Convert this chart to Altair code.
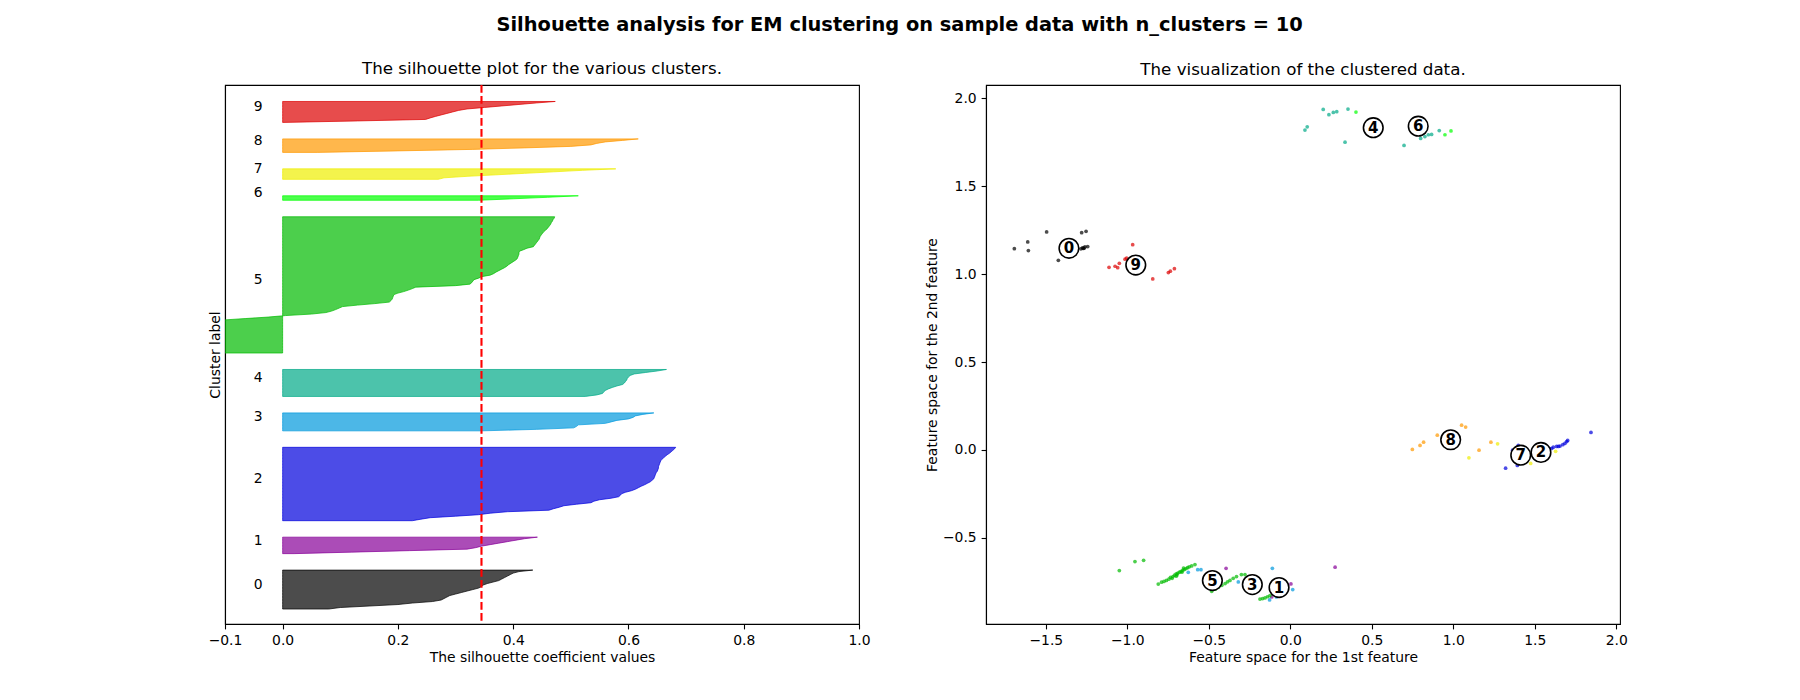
import pandas as pd
import altair as alt

n_clusters = 10
# nipy_spectral(k / 10) for k = 0..9
cluster_colors = ["#000000", "#880099", "#0000dd", "#0099dd", "#00aa88",
                  "#00bb00", "#00ff00", "#eeee00", "#ff9900", "#dd0000"]
silhouette_avg = 0.345

# silhouette coefficient of every sample, per cluster, sorted ascending
sil_0 = [0.08, 0.1, 0.15, 0.2, 0.225, 0.26, 0.275, 0.28, 0.285, 0.29, 0.30, 0.31,
         0.32, 0.33, 0.34, 0.345, 0.348, 0.355, 0.365, 0.375, 0.38, 0.385, 0.39,
         0.395, 0.40, 0.41, 0.434]
sil_1 = [0.02, 0.12, 0.22, 0.32, 0.335, 0.345, 0.36, 0.375, 0.39, 0.405, 0.42, 0.442]
sil_2 = [0.225, 0.24, 0.256, 0.30, 0.34, 0.36, 0.39, 0.462, 0.47, 0.48, 0.488, 0.51,
         0.535, 0.54, 0.55, 0.57, 0.583, 0.586, 0.588, 0.595, 0.605, 0.612, 0.617,
         0.622, 0.628, 0.633, 0.638, 0.641, 0.644, 0.645, 0.646, 0.647, 0.648, 0.65,
         0.651, 0.652, 0.652, 0.653, 0.654, 0.655, 0.656, 0.658, 0.661, 0.664, 0.667,
         0.671, 0.674, 0.677, 0.68, 0.682]
sil_3 = [0.345, 0.44, 0.505, 0.51, 0.513, 0.56, 0.57, 0.58, 0.60, 0.608, 0.612,
         0.625, 0.644]
sil_4 = [0.525, 0.545, 0.555, 0.557, 0.56, 0.565, 0.572, 0.58, 0.59, 0.593, 0.595,
         0.597, 0.598, 0.60, 0.603, 0.61, 0.63, 0.65, 0.666]
sil_5 = [-0.32, -0.3, -0.29, -0.28, -0.27, -0.26, -0.25, -0.24, -0.23, -0.22, -0.21,
         -0.2, -0.19, -0.18, -0.17, -0.16, -0.15, -0.14, -0.13, -0.125, -0.12, -0.11,
         -0.105, -0.065, -0.025,
         0.005, 0.05, 0.075, 0.085, 0.092, 0.098, 0.104, 0.13, 0.16, 0.185, 0.188,
         0.19, 0.191, 0.192, 0.193, 0.2, 0.21, 0.218, 0.225, 0.231, 0.30, 0.325,
         0.328, 0.330, 0.332, 0.34, 0.345, 0.36, 0.366, 0.37, 0.375, 0.38, 0.385,
         0.389, 0.392, 0.396, 0.40, 0.404, 0.407, 0.408, 0.409, 0.41, 0.41, 0.411,
         0.418, 0.424, 0.435, 0.437, 0.439, 0.441, 0.443, 0.445, 0.446, 0.447, 0.449,
         0.451, 0.453, 0.456, 0.459, 0.461, 0.463, 0.465, 0.466, 0.468, 0.469, 0.471,
         0.472]
sil_6 = [0.34, 0.40, 0.46, 0.513]
sil_7 = [0.27, 0.28, 0.32, 0.37, 0.42, 0.47, 0.52, 0.578]
sil_8 = [0.06, 0.2, 0.33, 0.42, 0.50, 0.535, 0.545, 0.56, 0.59, 0.617]
sil_9 = [0.0, 0.13, 0.248, 0.256, 0.265, 0.275, 0.285, 0.295, 0.305, 0.32, 0.35,
         0.38, 0.41, 0.44, 0.473]
sil_values = [sil_0, sil_1, sil_2, sil_3, sil_4, sil_5, sil_6, sil_7, sil_8, sil_9]

# samples in the 2-D feature space, per cluster
pts_0 = [(-1.693, 1.145), (-1.611, 1.183), (-1.607, 1.134), (-1.495, 1.24),
         (-1.423, 1.079), (-1.28, 1.236), (-1.253, 1.244), (-1.27, 1.146),
         (-1.26, 1.155), (-1.243, 1.157), (-1.275, 1.15), (-1.265, 1.148),
         (-1.285, 1.144)]
pts_1 = [(-0.394, -0.673), (0.004, -0.762), (-0.114, -0.836), (0.275, -0.667)]
pts_2 = [(1.321, -0.104), (1.364, -0.001), (1.399, 0.026), (1.393, -0.088),
         (1.604, 0.009), (1.614, 0.016), (1.634, 0.02), (1.655, 0.022),
         (1.685, 0.037), (1.696, 0.048), (1.702, 0.054), (1.845, 0.1),
         (1.59, 0.008), (1.645, 0.02), (1.672, 0.03), (1.575, -0.004)]
pts_3 = [(-0.626, -0.696), (-0.568, -0.681), (-0.548, -0.681), (-0.319, -0.751),
         (-0.11, -0.673), (0.015, -0.794), (-0.127, -0.853), (-0.085, -0.836)]
pts_4 = [(0.202, 1.937), (0.237, 1.907), (0.264, 1.92), (0.285, 1.924),
         (0.354, 1.939), (0.09, 1.82), (0.104, 1.838), (0.336, 1.751),
         (0.698, 1.732), (0.80, 1.772), (0.826, 1.783), (0.847, 1.793),
         (0.867, 1.795), (0.914, 1.817)]
pts_5 = [(-1.049, -0.686), (-0.953, -0.635), (-0.9, -0.628),
         (-0.81, -0.763), (-0.79, -0.752), (-0.775, -0.748), (-0.76, -0.742),
         (-0.745, -0.735), (-0.735, -0.725), (-0.72, -0.72), (-0.71, -0.712),
         (-0.70, -0.705), (-0.69, -0.70), (-0.68, -0.695), (-0.67, -0.69),
         (-0.66, -0.685), (-0.65, -0.68), (-0.64, -0.675), (-0.63, -0.67),
         (-0.62, -0.665), (-0.605, -0.66), (-0.585, -0.652), (-0.725, -0.73),
         (-0.695, -0.71), (-0.665, -0.695), (-0.655, -0.672), (-0.70, -0.718),
         (-0.482, -0.804), (-0.46, -0.792), (-0.44, -0.78), (-0.42, -0.77),
         (-0.40, -0.76), (-0.385, -0.75), (-0.37, -0.742), (-0.35, -0.73),
         (-0.33, -0.72), (-0.30, -0.709), (-0.278, -0.709),
         (-0.186, -0.848), (-0.17, -0.845), (-0.155, -0.842), (-0.14, -0.835),
         (-0.125, -0.829)]
pts_6 = [(0.403, 1.922), (0.949, 1.793), (0.986, 1.815)]
pts_7 = [(1.272, 0.035), (1.096, -0.045), (1.628, -0.008), (1.475, -0.077),
         (1.43, -0.02)]
pts_8 = [(0.749, 0.003), (0.796, 0.026), (0.818, 0.044), (0.902, 0.084),
         (1.051, 0.141), (1.076, 0.13), (1.231, 0.044), (1.158, -0.001),
         (0.95, 0.07)]
pts_9 = [(-0.967, 1.168), (-1.112, 1.039), (-1.075, 1.045), (-1.059, 1.037),
         (-1.049, 1.062), (-1.014, 1.085), (-1.004, 1.091), (-0.844, 0.973),
         (-0.748, 1.009), (-0.736, 1.017), (-0.711, 1.031)]
points = [pts_0, pts_1, pts_2, pts_3, pts_4, pts_5, pts_6, pts_7, pts_8, pts_9]

# cluster centers
centers = [(-1.358, 1.147), (-0.069, -0.783), (1.538, -0.014), (-0.233, -0.766),
           (0.509, 1.833), (-0.478, -0.743), (0.785, 1.842), (1.414, -0.03),
           (0.984, 0.058), (-0.948, 1.052)]

x_ticks_sil = [-0.1, 0, 0.2, 0.4, 0.6, 0.8, 1.0]
x_ticks_pts = [-1.5, -1.0, -0.5, 0.0, 0.5, 1.0, 1.5, 2.0]
y_ticks_pts = [-0.5, 0.0, 0.5, 1.0, 1.5, 2.0]

font = "DejaVu Sans"

# silhouette bands, stacked like the sklearn example
sil_rows = []
label_rows = []
y_lower = 10
for k, vals in enumerate(sil_values):
    for i, v in enumerate(sorted(vals)):
        sil_rows.append({"cluster": str(k), "y": y_lower + i, "value": v, "zero": 0.0})
    label_rows.append({"cluster": str(k), "value": -0.05, "y": y_lower + 0.5 * len(vals)})
    y_lower = y_lower + len(vals) + 10
y_top = y_lower

sil_df = pd.DataFrame(sil_rows)
label_df = pd.DataFrame(label_rows)
avg_df = pd.DataFrame({"value": [silhouette_avg]})

pts_df = pd.DataFrame([{"cluster": str(k), "x": p[0], "y": p[1]}
                       for k, pts in enumerate(points) for p in pts])
cen_df = pd.DataFrame([{"cluster": str(k), "x": c[0], "y": c[1]}
                       for k, c in enumerate(centers)])

color_scale = alt.Scale(domain=[str(k) for k in range(n_clusters)], range=cluster_colors)

x_sil = alt.X("value:Q", stack=False,
              scale=alt.Scale(domain=[-0.1, 1.0], nice=False, zero=False),
              axis=alt.Axis(values=x_ticks_sil, format=".1f",
                            title="The silhouette coefficient values"))
y_sil = alt.Y("y:Q", scale=alt.Scale(domain=[0, y_top], nice=False),
              axis=alt.Axis(labels=False, ticks=False, title="Cluster label"))

bands = alt.Chart(sil_df).mark_area(
    orient="horizontal", clip=True, fillOpacity=0.7, strokeOpacity=0.7, strokeWidth=1
).encode(
    x=x_sil,
    x2="zero:Q",
    y=y_sil,
    color=alt.Color("cluster:N", scale=color_scale, legend=None),
    stroke=alt.Stroke("cluster:N", scale=color_scale, legend=None),
)

band_labels = alt.Chart(label_df).mark_text(
    align="left", baseline="alphabetic", font=font, fontSize=13.9, color="black"
).encode(x=x_sil, y=y_sil, text="cluster:N")

avg_line = alt.Chart(avg_df).mark_rule(
    color="red", strokeDash=[7.7, 3.3], strokeWidth=2.1
).encode(x=x_sil)

left = alt.layer(bands, band_labels, avg_line).properties(
    width=634, height=539,
    title=alt.TitleParams("The silhouette plot for the various clusters.")
)

x_pts = alt.X("x:Q", scale=alt.Scale(domain=[-1.867, 2.023], nice=False, zero=False),
              axis=alt.Axis(values=x_ticks_pts, format=".1f",
                            title="Feature space for the 1st feature"))
y_pts = alt.Y("y:Q", scale=alt.Scale(domain=[-0.99, 2.076], nice=False, zero=False),
              axis=alt.Axis(values=y_ticks_pts, format=".1f",
                            title="Feature space for the 2nd feature"))

dots = alt.Chart(pts_df).mark_circle(size=14, opacity=0.7).encode(
    x=x_pts, y=y_pts,
    color=alt.Color("cluster:N", scale=color_scale, legend=None),
)
rings = alt.Chart(cen_df).mark_circle(
    size=385, color="white", opacity=1, stroke="black", strokeWidth=1.6
).encode(x=x_pts, y=y_pts)
ring_text = alt.Chart(cen_df).mark_text(
    font=font, fontSize=15, fontWeight="bold", color="black",
    align="center", baseline="middle"
).encode(x=x_pts, y=y_pts, text="cluster:N")

right = alt.layer(dots, rings, ring_text).properties(
    width=634, height=539,
    title=alt.TitleParams("The visualization of the clustered data.")
)

chart = alt.hconcat(
    left, right, spacing=127, bounds="flush",
    title=alt.TitleParams(
        "Silhouette analysis for EM clustering on sample data with n_clusters = 10",
        fontSize=19.4, fontWeight="bold", anchor="middle", offset=27.5, dx=-18, dy=2
    ),
).properties(
    padding={"left": 199, "top": 6, "right": 10, "bottom": 10}
).configure_axis(
    labelFont=font, titleFont=font, labelFontSize=13.9, titleFontSize=13.9,
    titleFontWeight="normal", labelColor="black", titleColor="black",
    tickColor="black", domainColor="black", tickSize=4.9, tickWidth=1.1,
    domainWidth=1.1, labelPadding=4.9, titlePadding=3, grid=False, zindex=1,
    labelFlush=False
).configure_view(
    stroke="black", strokeWidth=1.1
).configure_title(
    font=font, fontSize=16.7, fontWeight="normal", color="black", offset=6
)

chart.save("out.html", embed_options={"renderer": "svg", "actions": False})
